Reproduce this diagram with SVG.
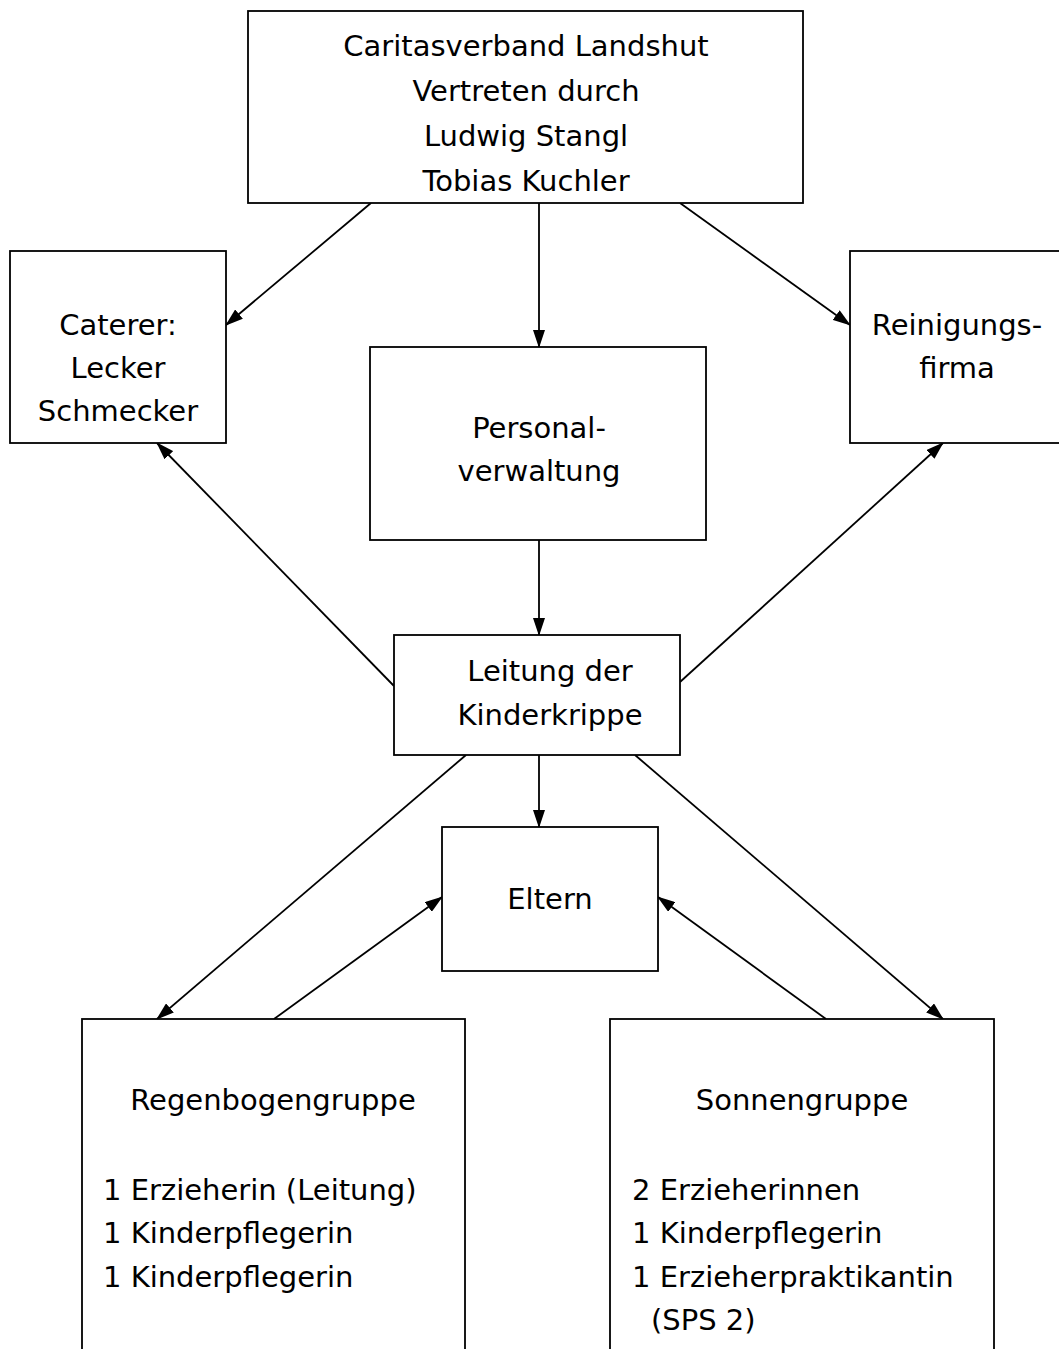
<svg xmlns="http://www.w3.org/2000/svg" width="1059" height="1349" viewBox="0 0 1059 1349">
<style>
.box{fill:#fff;stroke:#000;stroke-width:1.8}
.t{font-family:"Comic Sans MS","DejaVu Sans","Noto Sans",sans-serif;font-size:29px;fill:#000}
.c{text-anchor:middle}
.ln{stroke:#000;stroke-width:1.8;fill:none;marker-end:url(#ah)}
</style>
<defs>
<marker id="ah" markerWidth="18" markerHeight="12" refX="17" refY="6" orient="auto" markerUnits="userSpaceOnUse">
<path d="M0,0 L18,6 L0,12 Z" fill="#000"/>
</marker>
</defs>
<rect width="1059" height="1349" fill="#fff"/>
<g id="connectors">
<line class="ln" x1="371" y1="203" x2="226" y2="325"/>
<line class="ln" x1="539" y1="203" x2="539" y2="347"/>
<line class="ln" x1="680" y1="203" x2="850" y2="325"/>
<line class="ln" x1="394" y1="686" x2="157" y2="443"/>
<line class="ln" x1="680" y1="682" x2="943" y2="443"/>
<line class="ln" x1="539" y1="540" x2="539" y2="635"/>
<line class="ln" x1="539" y1="755" x2="539" y2="827"/>
<line class="ln" x1="466" y1="755" x2="157" y2="1019"/>
<line class="ln" x1="635" y1="755" x2="943" y2="1019"/>
<line class="ln" x1="274" y1="1019" x2="442" y2="897"/>
<line class="ln" x1="826" y1="1019" x2="658" y2="897"/>
</g>
<g id="caritas">
<rect class="box" x="248" y="11" width="555" height="192"/>
<text class="t c" x="526" y="56">Caritasverband Landshut</text>
<text class="t c" x="526" y="101">Vertreten durch</text>
<text class="t c" x="526" y="146">Ludwig Stangl</text>
<text class="t c" x="526" y="191">Tobias Kuchler</text>
</g>
<g id="caterer">
<rect class="box" x="10" y="251" width="216" height="192"/>
<text class="t c" x="118" y="335">Caterer:</text>
<text class="t c" x="118" y="378">Lecker</text>
<text class="t c" x="118" y="421">Schmecker</text>
</g>
<g id="reinigung">
<rect class="box" x="850" y="251" width="215" height="192"/>
<text class="t c" x="957" y="335">Reinigungs-</text>
<text class="t c" x="957" y="378">firma</text>
</g>
<g id="personal">
<rect class="box" x="370" y="347" width="336" height="193"/>
<text class="t c" x="539" y="438">Personal-</text>
<text class="t c" x="539" y="481">verwaltung</text>
</g>
<g id="leitung">
<rect class="box" x="394" y="635" width="286" height="120"/>
<text class="t c" x="550" y="681">Leitung der</text>
<text class="t c" x="550" y="725">Kinderkrippe</text>
</g>
<g id="eltern">
<rect class="box" x="442" y="827" width="216" height="144"/>
<text class="t c" x="550" y="909">Eltern</text>
</g>
<g id="regenbogen">
<rect class="box" x="82" y="1019" width="383" height="340"/>
<text class="t c" x="273" y="1110">Regenbogengruppe</text>
<text class="t" x="103" y="1200">1 Erzieherin (Leitung)</text>
<text class="t" x="103" y="1243">1 Kinderpflegerin</text>
<text class="t" x="103" y="1287">1 Kinderpflegerin</text>
</g>
<g id="sonnen">
<rect class="box" x="610" y="1019" width="384" height="340"/>
<text class="t c" x="802" y="1110">Sonnengruppe</text>
<text class="t" x="632" y="1200">2 Erzieherinnen</text>
<text class="t" x="632" y="1243">1 Kinderpflegerin</text>
<text class="t" x="632" y="1287">1 Erzieherpraktikantin</text>
<text class="t" x="651" y="1330">(SPS 2)</text>
</g>
</svg>
